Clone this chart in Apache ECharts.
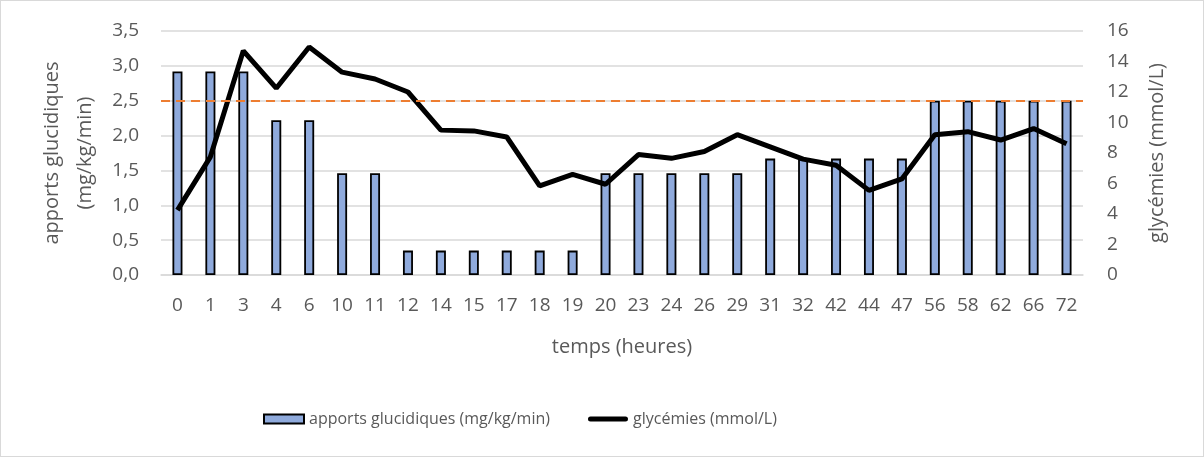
<!DOCTYPE html>
<html>
<head>
<meta charset="utf-8">
<script src="https://cdn.jsdelivr.net/npm/echarts@6/dist/echarts.min.js"></script>
<style>
  html, body { margin: 0; padding: 0; background: #fff; }
  #chart { width: 1202px; height: 455px; border: 1px solid #d9d9d9; }
</style>
</head>
<body>
<div id="chart"></div>
<script>
var heures = ['0', '1', '3', '4', '6', '10', '11', '12', '14', '15', '17', '18', '19', '20',
  '23', '24', '26', '29', '31', '32', '42', '44', '47', '56', '58', '62', '66', '72'];
var apports = [2.92, 2.92, 2.92, 2.22, 2.22, 1.46, 1.46, 0.35, 0.35, 0.35, 0.35, 0.35, 0.35, 1.46,
  1.46, 1.46, 1.46, 1.46, 1.67, 1.67, 1.67, 1.67, 1.67, 2.5, 2.5, 2.5, 2.5, 2.5];
var glycemies = [4.25, 7.75, 14.7, 12.25, 14.95, 13.3, 12.85, 12.0, 9.5, 9.45, 9.05, 5.85, 6.6, 5.95,
  7.9, 7.65, 8.1, 9.2, 8.4, 7.6, 7.2, 5.55, 6.3, 9.2, 9.4, 8.85, 9.6, 8.6];
var seuil = 2.5;

var grey = '#595959';
var font = 'Open Sans';

var chart = echarts.init(document.getElementById('chart'));
chart.setOption({
  animation: false,
  textStyle: { fontFamily: font, color: grey },
  grid: { left: 160, right: 120, top: 30, bottom: 181 },
  legend: {
    top: 405,
    left: 257,
    itemGap: 38,
    itemWidth: 40,
    itemHeight: 9,
    textStyle: { fontSize: 16, color: grey, fontFamily: font },
    data: [
      { name: 'apports glucidiques (mg/kg/min)', icon: 'rect' },
      { name: 'glycémies (mmol/L)',
        icon: 'path://M2.5,0 H37.5 A2.5,2.5 0 0 1 37.5,5 H2.5 A2.5,2.5 0 0 1 2.5,0 Z',
        itemStyle: { color: '#000', borderWidth: 0 } }
    ]
  },
  xAxis: {
    type: 'category',
    data: heures,
    name: 'temps (heures)',
    nameLocation: 'middle',
    nameGap: 62,
    nameTextStyle: { fontSize: 20, color: grey },
    axisTick: { show: false },
    axisLine: { lineStyle: { color: '#d9d9d9', width: 1.5 } },
    axisLabel: { fontSize: 19, color: grey, margin: 21, interval: 0 }
  },
  yAxis: [{
    type: 'value',
    min: 0, max: 3.5, interval: 0.5,
    name: 'apports glucidiques\n(mg/kg/min)',
    nameLocation: 'middle',
    nameGap: 58,
    nameTextStyle: { fontSize: 20, color: grey, lineHeight: 33 },
    axisLabel: { fontSize: 19, color: grey, margin: 22,
      formatter: function (v) { return v.toFixed(1).replace('.', ','); } },
    splitLine: { lineStyle: { color: '#d9d9d9', width: 1.5 } },
    axisLine: { show: false }, axisTick: { show: false }
  }, {
    type: 'value',
    min: 0, max: 16, interval: 2,
    name: 'glycémies (mmol/L)',
    nameLocation: 'middle',
    nameGap: 64,
    nameTextStyle: { fontSize: 20, color: grey },
    axisLabel: { fontSize: 19, color: grey, margin: 24 },
    splitLine: { show: false },
    axisLine: { show: false }, axisTick: { show: false }
  }],
  series: [{
    name: 'apports glucidiques (mg/kg/min)',
    type: 'bar',
    data: apports,
    barWidth: 10,
    itemStyle: { color: '#8faadc', borderColor: '#000', borderWidth: 1.8 },
    markLine: {
      silent: true,
      symbol: 'none',
      label: { show: false },
      lineStyle: { color: '#ed7d31', type: [9, 6], width: 2 },
      data: [{ yAxis: seuil }]
    }
  }, {
    name: 'glycémies (mmol/L)',
    type: 'line',
    yAxisIndex: 1,
    data: glycemies,
    symbol: 'none',
    lineStyle: { color: '#000', width: 5 },
    itemStyle: { color: '#000' }
  }]
});
</script>
</body>
</html>
